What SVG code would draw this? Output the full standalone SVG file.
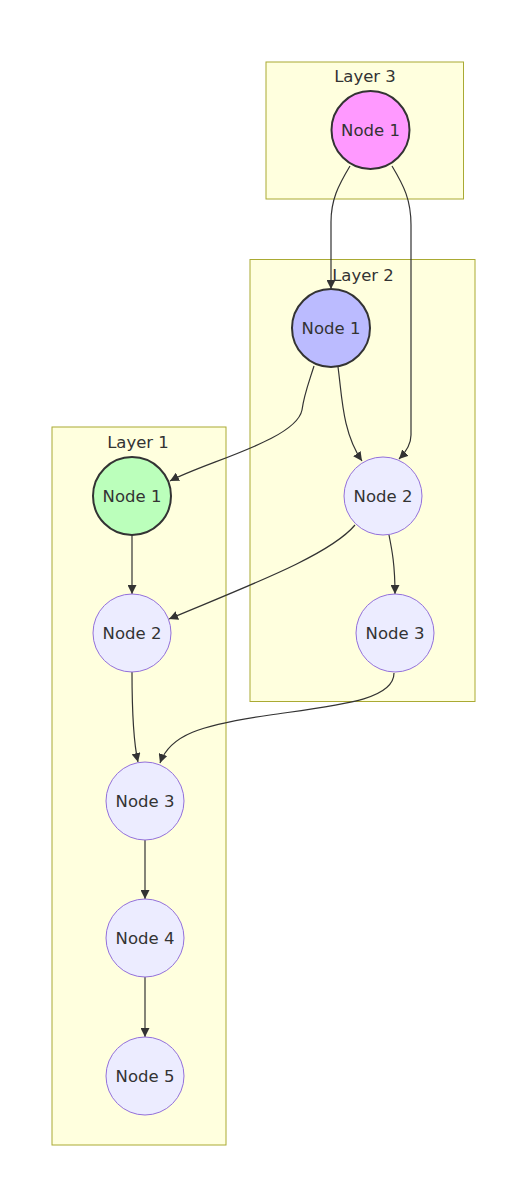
<svg xmlns="http://www.w3.org/2000/svg" width="514" height="1190" viewBox="0 0 514 1190">
<defs>
<marker id="arrow" viewBox="0 0 10 10" refX="10" refY="5" markerWidth="9" markerHeight="9" markerUnits="userSpaceOnUse" orient="auto">
<path d="M0,0 L10,5 L0,10 z" fill="#333"/>
</marker>
<style>
.cluster{fill:#ffffde;stroke:#aaaa33;stroke-width:1}
.ctitle{font-family:"DejaVu Sans",sans-serif;font-size:16.5px;fill:#333;text-anchor:middle;dominant-baseline:central}
.node{fill:#ECECFF;stroke:#9370DB;stroke-width:1}
.label{font-family:"DejaVu Sans",sans-serif;font-size:16.5px;fill:#333;text-anchor:middle;dominant-baseline:central}
.edge{fill:none;stroke:#333;stroke-width:1.2;marker-end:url(#arrow)}
</style>
</defs>
<rect width="514" height="1190" fill="#ffffff"/>
<g id="clusters">
<g id="layer3"><rect class="cluster" x="266" y="62" width="197.5" height="137"/><text class="ctitle" x="365" y="76">Layer 3</text></g>
<g id="layer2"><rect class="cluster" x="250" y="259.5" width="225" height="442"/><text class="ctitle" x="363" y="275">Layer 2</text></g>
<g id="layer1"><rect class="cluster" x="52" y="427" width="174" height="718"/><text class="ctitle" x="138" y="442">Layer 1</text></g>
</g>
<g id="connectors">
<path class="edge" d="M350,166 C338,186 331,200 331,222 L331,289"/>
<path class="edge" d="M392,166 C404,186 411,200 411,225 L411,435 C411,445 406,452 399,459"/>
<path class="edge" d="M314,366 C308,385 304,395 302,410 C296,440 205,462 170,481"/>
<path class="edge" d="M338,367 C342,395 342,432 362,461"/>
<path class="edge" d="M355,525 C330,555 250,585 169,619"/>
<path class="edge" d="M389,535 C392,550 395,565 395,594"/>
<path class="edge" d="M132,535 L132,594"/>
<path class="edge" d="M132,672 C132,710 133,740 138,762"/>
<path class="edge" d="M394,673 C394,700 340,705 270,715 C200,725 170,735 160,763"/>
<path class="edge" d="M145,840 L145,899"/>
<path class="edge" d="M145,977 L145,1037"/>
</g>
<g id="l3n1"><circle cx="370.5" cy="130" r="39" fill="#ff99ff" stroke="#333" stroke-width="2"/><text class="label" x="370.5" y="130">Node 1</text></g>
<g id="l2n1"><circle cx="331" cy="328" r="39" fill="#bbbbff" stroke="#333" stroke-width="2"/><text class="label" x="331" y="328">Node 1</text></g>
<g id="l2n2"><circle class="node" cx="383" cy="496" r="39"/><text class="label" x="383" y="496">Node 2</text></g>
<g id="l2n3"><circle class="node" cx="395" cy="633" r="39"/><text class="label" x="395" y="633">Node 3</text></g>
<g id="l1n1"><circle cx="132" cy="496" r="39" fill="#bbffbb" stroke="#333" stroke-width="2"/><text class="label" x="132" y="496">Node 1</text></g>
<g id="l1n2"><circle class="node" cx="132" cy="633" r="39"/><text class="label" x="132" y="633">Node 2</text></g>
<g id="l1n3"><circle class="node" cx="145" cy="801" r="39"/><text class="label" x="145" y="801">Node 3</text></g>
<g id="l1n4"><circle class="node" cx="145" cy="938" r="39"/><text class="label" x="145" y="938">Node 4</text></g>
<g id="l1n5"><circle class="node" cx="145" cy="1076" r="39"/><text class="label" x="145" y="1076">Node 5</text></g>
</svg>
